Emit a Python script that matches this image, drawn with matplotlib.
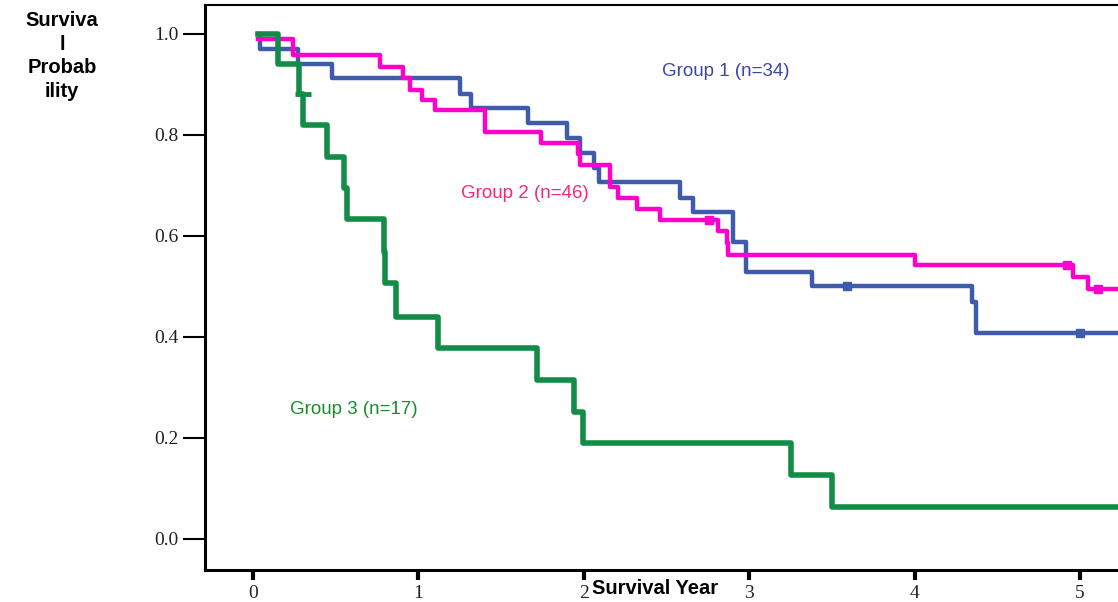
import matplotlib.pyplot as plt

# Kaplan-Meier step curves: event times (years) and survival after each step
g1_t = [0.03, 0.04, 0.27, 0.48, 1.25, 1.32, 1.66, 1.90, 1.98, 2.06, 2.09, 2.58, 2.66, 2.90, 2.98, 3.38, 4.35, 4.37, 5.24]
g1_s = [1.00, 0.971, 0.941, 0.912, 0.882, 0.853, 0.824, 0.794, 0.765, 0.735, 0.706, 0.676, 0.647, 0.588, 0.529, 0.500, 0.470, 0.408, 0.408]
g1_cens_t = [3.59, 5.00]
g1_cens_s = [0.500, 0.408]

g2_t = [0.03, 0.24, 0.77, 0.91, 0.95, 1.02, 1.10, 1.40, 1.74, 1.965, 1.98, 2.16, 2.21, 2.32, 2.46, 2.81, 2.865, 2.875, 4.00, 4.96, 5.05, 5.24]
g2_s = [0.990, 0.958, 0.935, 0.913, 0.889, 0.870, 0.850, 0.806, 0.784, 0.762, 0.740, 0.697, 0.675, 0.653, 0.632, 0.610, 0.586, 0.562, 0.543, 0.519, 0.495, 0.495]
g2_cens_t = [2.76, 4.92, 5.11]
g2_cens_s = [0.632, 0.543, 0.495]

g3_t = [0.03, 0.15, 0.28, 0.30, 0.45, 0.55, 0.57, 0.79, 0.80, 0.865, 1.12, 1.72, 1.94, 1.995, 3.25, 3.50, 5.24]
g3_s = [1.00, 0.940, 0.882, 0.820, 0.757, 0.695, 0.634, 0.568, 0.507, 0.440, 0.378, 0.315, 0.252, 0.190, 0.127, 0.063, 0.063]
g3_cens_t = [0.30]
g3_cens_s = [0.882]

yticks = [0.0, 0.2, 0.4, 0.6, 0.8, 1.0]
xticks = [0, 1, 2, 3, 4, 5]

blue = '#3f5bab'
pink = '#ff00cc'
green = '#128c46'

fig = plt.figure(figsize=(11.18, 6.02), dpi=100)
ax = fig.add_axes([205 / 1118, 1 - 570 / 602, 1 - 205 / 1118, 565 / 602])

ax.step(g1_t, g1_s, where='post', color=blue, lw=3.2)
ax.plot(g1_cens_t, g1_cens_s, 's', color=blue, ms=5.5)
ax.step(g2_t, g2_s, where='post', color=pink, lw=3.2)
ax.plot(g2_cens_t, g2_cens_s, 's', color=pink, ms=5.5)
ax.step(g3_t, g3_s, where='post', color=green, lw=4)
ax.plot(g3_cens_t, g3_cens_s, '_', color=green, ms=12, mew=3.5)

ax.text(2.86, 0.925, 'Group 1 (n=34)', color='#3c46a8', fontsize=13.5,
        family='Liberation Sans', ha='center', va='center')
ax.text(1.645, 0.685, 'Group 2 (n=46)', color='#f5287a', fontsize=13.5,
        family='Liberation Sans', ha='center', va='center')
ax.text(0.61, 0.257, 'Group 3 (n=17)', color='#1a8c2a', fontsize=13.5,
        family='Liberation Sans', ha='center', va='center')

ax.set_xlim(-0.29, 5.23)
ax.set_ylim(-0.0614, 1.0574)
ax.set_xticks(xticks)
ax.set_yticks(yticks)
ax.set_xticklabels([str(x) for x in xticks], family='Liberation Serif', fontsize=14, color='#222222')
ax.set_yticklabels(['%.1f' % y for y in yticks], family='Liberation Serif', fontsize=14, color='#222222')
ax.tick_params(axis='y', length=16, width=1.5, pad=3)
ax.tick_params(axis='x', length=7, width=3, pad=4)

ax.spines['right'].set_visible(False)
ax.spines['left'].set_linewidth(2.2)
ax.spines['bottom'].set_linewidth(2.2)
ax.spines['top'].set_linewidth(1.5)

fig.text(62 / 1118, 1 - 56 / 602, 'Surviva\nl\nProbab\nility', ha='center', va='center',
         fontsize=14.5, fontweight='bold', family='Liberation Sans', linespacing=1.32)
fig.text(655 / 1118, 1 - 589 / 602, 'Survival Year', ha='center', va='center',
         fontsize=14.5, fontweight='bold', family='Liberation Sans')

plt.savefig('out.png')
